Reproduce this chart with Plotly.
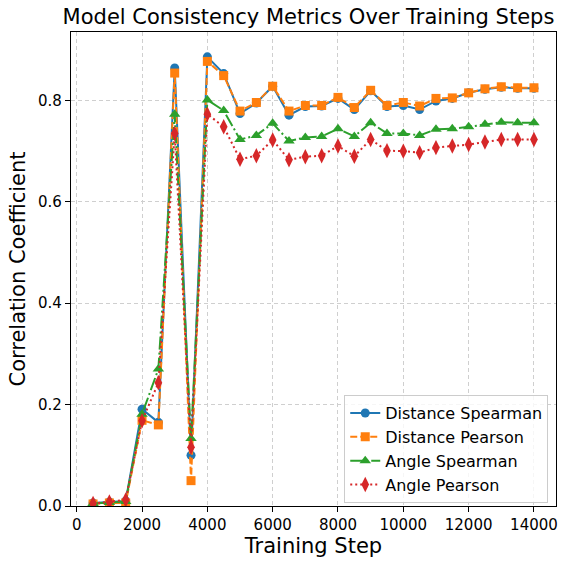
import plotly.graph_objects as go

steps = [500, 1000, 1500, 2000, 2500, 3000, 3500, 4000, 4500, 5000, 5500, 6000, 6500, 7000,
         7500, 8000, 8500, 9000, 9500, 10000, 10500, 11000, 11500, 12000, 12500, 13000, 13500, 14000]

distance_spearman = [0.006, 0.008, 0.010, 0.191, 0.165, 0.864, 0.100, 0.886, 0.853, 0.774, 0.795, 0.828,
                     0.771, 0.788, 0.789, 0.804, 0.782, 0.819, 0.788, 0.790, 0.782, 0.799, 0.804, 0.815,
                     0.822, 0.826, 0.824, 0.824]
distance_pearson = [0.004, 0.006, 0.006, 0.169, 0.160, 0.854, 0.050, 0.877, 0.849, 0.779, 0.796, 0.828,
                    0.779, 0.790, 0.790, 0.806, 0.786, 0.820, 0.790, 0.796, 0.789, 0.804, 0.805, 0.815,
                    0.823, 0.827, 0.825, 0.825]
angle_spearman = [0.005, 0.007, 0.009, 0.181, 0.270, 0.773, 0.133, 0.801, 0.780, 0.723, 0.731, 0.755,
                  0.720, 0.727, 0.729, 0.744, 0.729, 0.756, 0.735, 0.735, 0.731, 0.743, 0.744, 0.748,
                  0.753, 0.757, 0.756, 0.756]
angle_pearson = [0.005, 0.008, 0.012, 0.168, 0.243, 0.735, 0.116, 0.773, 0.748, 0.684, 0.691, 0.722,
                 0.683, 0.689, 0.691, 0.710, 0.690, 0.723, 0.701, 0.700, 0.697, 0.707, 0.710, 0.713,
                 0.718, 0.723, 0.723, 0.723]

x_ticks = [0, 2000, 4000, 6000, 8000, 10000, 12000, 14000]
x_tick_labels = ["0", "2000", "4000", "6000", "8000", "10000", "12000", "14000"]
y_ticks = [0.0, 0.2, 0.4, 0.6, 0.8]
y_tick_labels = ["0.0", "0.2", "0.4", "0.6", "0.8"]

series = [
    ("Distance Spearman", distance_spearman, "#1f77b4", "solid", "circle", 9),
    ("Distance Pearson", distance_pearson, "#ff7f0e", "7px,3px", "square", 9),
    ("Angle Spearman", angle_spearman, "#2ca02c", "13px,3px,2px,3px", "triangle-up", 10),
    ("Angle Pearson", angle_pearson, "#d62728", "2px,3px", "diamond-tall", 11),
]

fig = go.Figure()
for name, vals, color, dash, sym, size in series:
    fig.add_trace(go.Scatter(
        x=steps, y=vals, name=name, mode="lines+markers",
        line=dict(color=color, width=2, dash=dash),
        marker=dict(symbol=sym, size=size, color=color, line=dict(width=0)),
    ))

axis_common = dict(
    showline=True, linecolor="black", linewidth=1.2, mirror=True,
    ticks="outside", ticklen=5, tickwidth=1.2, tickcolor="black",
    showgrid=True, gridcolor="#cfcfcf", griddash="4px,3px", gridwidth=1,
    zeroline=False, tickfont=dict(family="DejaVu Sans", size=15, color="black"),
)

fig.update_layout(
    width=566, height=562,
    margin=dict(l=71, r=8, t=32, b=53),
    paper_bgcolor="white", plot_bgcolor="white",
    font=dict(family="DejaVu Sans", color="black"),
    title=dict(text="Model Consistency Metrics Over Training Steps", x=0.545, xanchor="center",
               y=0.97, yanchor="middle", font=dict(size=21, family="DejaVu Sans")),
    xaxis=dict(range=[-175, 14675], tickvals=x_ticks, ticktext=x_tick_labels,
               title=dict(text="Training Step", font=dict(size=21), standoff=5), **axis_common),
    yaxis=dict(range=[0, 0.935], tickvals=y_ticks, ticktext=y_tick_labels,
               title=dict(text="Correlation Coefficient", font=dict(size=21), standoff=6), **axis_common),
    legend=dict(x=0.984, y=0.006, xanchor="right", yanchor="bottom",
                bgcolor="rgba(255,255,255,0.8)", bordercolor="#cccccc", borderwidth=1,
                font=dict(size=16, family="DejaVu Sans"), tracegroupgap=0, itemwidth=30),
    showlegend=True,
)

fig.write_html("out.html")
